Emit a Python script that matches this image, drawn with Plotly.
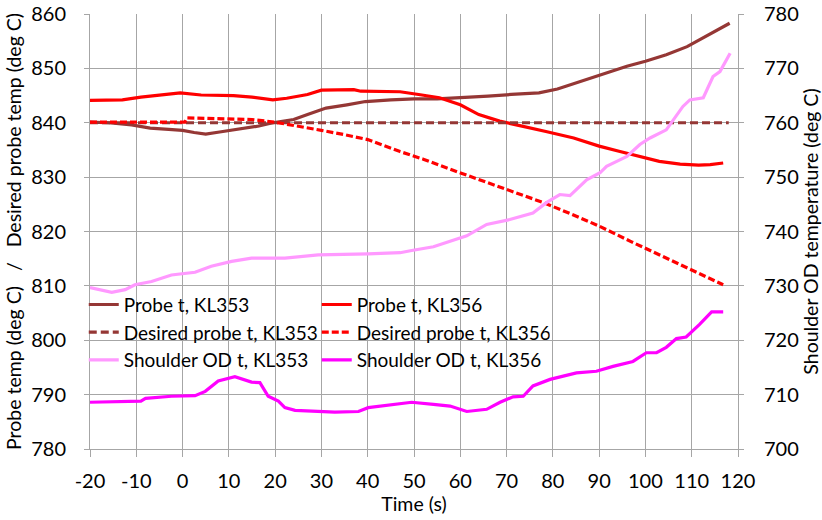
import plotly.graph_objects as go

# ---------------- data ----------------
t_probe353 = [-20, -16, -11, -7, -3, 0, 2.5, 5, 8, 12.5, 16.5, 19.5, 24, 27, 31, 35.5, 39.5, 45, 50, 55,
              61, 66, 71, 77, 81, 86, 90, 96, 100, 104.5, 109, 113, 116, 118.2]
v_probe353 = [840.1, 840.0, 839.6, 839.0, 838.8, 838.6, 838.2, 837.9, 838.3, 838.9, 839.4, 840.0, 840.6,
              841.5, 842.7, 843.3, 843.9, 844.2, 844.4, 844.4, 844.6, 844.9, 845.2, 845.5, 846.2, 847.6,
              848.7, 850.4, 851.3, 852.5, 854.0, 855.9, 857.2, 858.3]

t_probe356 = [-20, -13, -9, -3.5, -0.5, 4, 11, 15, 19.5, 22.5, 27, 30, 37, 38.5, 47, 51, 55.5, 60, 64,
              68.5, 73, 78.5, 84.5, 90, 94.5, 99, 103, 107.5, 111.5, 114, 116.8]
v_probe356 = [844.1, 844.2, 844.7, 845.2, 845.5, 845.1, 845.0, 844.7, 844.2, 844.5, 845.2, 846.0, 846.1,
              845.8, 845.7, 845.2, 844.6, 843.3, 841.5, 840.3, 839.5, 838.4, 837.2, 835.7, 834.7, 833.7,
              832.9, 832.4, 832.2, 832.3, 832.6]

t_des353 = [-20, 118]
v_des353 = [840, 840]

t_des356 = [-20, 0.5, 1, 10, 15, 20, 25, 30, 35, 40, 47, 52, 58, 64, 70, 78, 84, 90, 97, 104.5, 111, 116.8]
v_des356 = [840.1, 840.1, 840.9, 840.8, 840.6, 840.1, 839.4, 838.6, 837.8, 836.9, 834.7, 833.3, 831.4,
            829.6, 827.7, 825.3, 823.2, 821.0, 818.1, 815.1, 812.5, 810.2]

t_sh353 = [-20, -15.3, -12.4, -10.3, -6.7, -2.4, 2.7, 6.2, 10.6, 14.9, 22.1, 29.3, 40.1, 47, 49.5, 54.2,
           61.4, 65.7, 70.7, 75.7, 78.6, 81.5, 83.7, 87.3, 90.2, 91.6, 93.8, 96, 98.8, 101, 104.5, 106.7,
           108.1, 109.6, 112.5, 114.6, 116.1, 118.3]
v_sh353 = [729.7, 728.8, 729.3, 730.2, 730.8, 732.0, 732.5, 733.6, 734.5, 735.1, 735.1, 735.7, 735.9,
           736.1, 736.5, 737.2, 739.2, 741.3, 742.2, 743.4, 745.3, 746.8, 746.6, 749.5, 750.8, 752.0,
           752.9, 753.8, 756.0, 757.2, 758.7, 761.2, 763.0, 764.2, 764.6, 768.5, 769.4, 772.8]

t_sh356 = [-20, -9, -8, -2.4, 2.7, 4.9, 7.7, 11.3, 14.9, 16.7, 18.5, 20.7, 22.1, 24.3, 32.9, 38, 40.1,
           45.9, 49.5, 54.2, 57.8, 61.4, 65.7, 68.6, 71.4, 73.6, 75.7, 79.4, 83, 85.1, 89.4, 93, 97.3,
           100.2, 102.4, 104.5, 106.7, 108.8, 111.7, 114.3, 116.8]
v_sh356 = [708.6, 708.8, 709.3, 709.7, 709.8, 710.6, 712.5, 713.3, 712.3, 712.2, 709.7, 708.8, 707.6,
           707.1, 706.8, 706.9, 707.6, 708.3, 708.6, 708.2, 707.9, 706.9, 707.3, 708.6, 709.6, 709.7,
           711.6, 712.8, 713.5, 714.0, 714.3, 715.2, 716.1, 717.7, 717.7, 718.7, 720.3, 720.6, 722.9,
           725.2, 725.2]

x_ticks = list(range(-20, 121, 10))
x_tick_labels = [str(v) for v in x_ticks]  # plain hyphen minus like the original
y_left_ticks = list(range(780, 861, 10))
y_right_ticks = list(range(700, 781, 10))

# ---------------- figure ----------------
BROWN = "#953735"
RED = "#FF0000"
PINK = "#FF99FF"
MAGENTA = "#FF00FF"
FONT = "Lato, Carlito, Calibri, sans-serif"
GRID = "#a6a6a6"

fig = go.Figure()
fig.add_trace(go.Scatter(x=t_probe353, y=v_probe353, name="Probe t, KL353", mode="lines",
                         line=dict(color=BROWN, width=3.2)))
fig.add_trace(go.Scatter(x=t_probe356, y=v_probe356, name="Probe t, KL356", mode="lines",
                         line=dict(color=RED, width=3.2)))
fig.add_trace(go.Scatter(x=t_des353, y=v_des353, name="Desired probe t, KL353", mode="lines",
                         line=dict(color=BROWN, width=3.2, dash="8px,4px")))
fig.add_trace(go.Scatter(x=t_des356, y=v_des356, name="Desired probe t, KL356", mode="lines",
                         line=dict(color=RED, width=3.2, dash="7px,3px")))
fig.add_trace(go.Scatter(x=t_sh353, y=v_sh353, name="Shoulder OD t, KL353", mode="lines", yaxis="y2",
                         line=dict(color=PINK, width=3.2)))
fig.add_trace(go.Scatter(x=t_sh356, y=v_sh356, name="Shoulder OD t, KL356", mode="lines", yaxis="y2",
                         line=dict(color=MAGENTA, width=3.2)))

# white legend backing that hides the gridlines (drawn between grid and traces)
fig.add_shape(type="rect", xref="paper", yref="paper", x0=0.0, x1=0.702, y0=0.183, y1=0.355,
              fillcolor="white", line=dict(width=0), layer="between")

nb = "\u00a0"
fig.update_layout(
    width=822, height=520,
    margin=dict(l=90, r=84, t=14, b=71),
    paper_bgcolor="white", plot_bgcolor="white",
    font=dict(family=FONT, size=20, color="black"),
    showlegend=True,
    legend=dict(orientation="h", x=0.7095, xanchor="right", y=0.3755, yanchor="top",
                bgcolor="rgba(0,0,0,0)", borderwidth=0, font=dict(size=19, family=FONT),
                entrywidth=188, entrywidthmode="pixels", itemwidth=30, traceorder="normal",
                tracegroupgap=0),
    xaxis=dict(range=[-20, 120], tickvals=x_ticks, ticktext=x_tick_labels, showgrid=True,
               gridcolor=GRID, gridwidth=1, automargin=False, ticklabeloverflow="allow",
               zeroline=False, showline=True, linecolor=GRID, ticks="outside", ticklen=7,
               tickcolor=GRID, ticklabelstandoff=7,
               title=dict(text="Time (s)", font=dict(size=19.5), standoff=4)),
    yaxis=dict(range=[780, 860], tickvals=y_left_ticks, showgrid=True, gridcolor=GRID, gridwidth=1,
               zeroline=False, showline=True, linecolor=GRID, ticks="outside", ticklen=5,
               tickcolor=GRID, ticklabelstandoff=14, automargin=False, ticklabeloverflow="allow",
               title=dict(text="Probe temp (deg C)" + nb * 3 + "/" + nb * 3 + "Desired probe temp (deg C)",
                          font=dict(size=19.5), standoff=4)),
    yaxis2=dict(range=[700, 780], tickvals=y_right_ticks, overlaying="y", side="right",
                showgrid=False, zeroline=False, showline=True, linecolor=GRID, ticks="outside",
                ticklen=5, tickcolor=GRID, ticklabelstandoff=16, automargin=False,
                ticklabeloverflow="allow",
                title=dict(text="Shoulder OD temperature (deg C)", font=dict(size=19.5), standoff=8)),
)

# remove the browser's default 8px page margin so the 822x520 figure fills the window exactly
fig.write_html("out.html", config={"displayModeBar": False},
               post_script="document.body.style.margin='0';document.body.style.overflow='hidden';")
